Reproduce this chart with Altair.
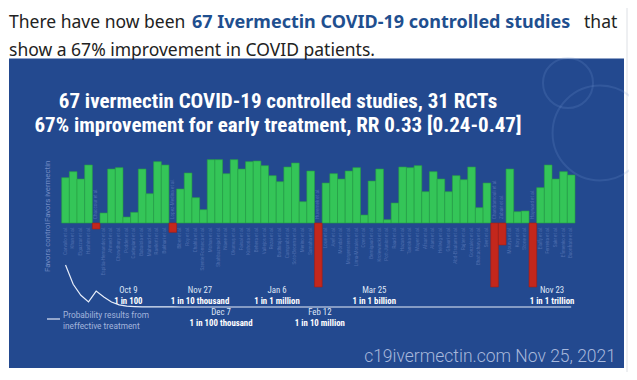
import altair as alt
import pandas as pd

# ---------------- data ----------------
studies = list(range(1, 68))
# percent improvement shown by each bar (negative = favors control)
improvement = [68, 77, 66, 87, -9, 15, 81, 83, 9, 16,
               81, 44, 92, 87, -14, 51, 75, 38, 20, 95,
               95, 74, 95, 81, 92, 93, 86, 71, 62, 84,
               90, 32, 78, -96, 60, 74, 66, 78, 83, 12,
               63, 81, 5, 30, 84, 83, 86, 47, 77, 66,
               47, 71, 65, 84, 23, 60, -96, -33, 81, 17,
               18, -96, 53, 87, 66, 77, 72]
names = ["Carvallo", "Khan", "Elgazzar", "Hashim", "Chaccour", "Espitia-Hernandez", "Ahmed",
         "Chowdhury", "Podder", "Cadegiani", "Babalola", "Mahmud", "Ravikirti", "Bukhari",
         "Lopez-Medina", "Biber", "Roy", "Chahla", "Szente Fonseca", "Mohan", "Shahbaznejad",
         "Niaee", "Okumuş", "Faisal", "Kishoria", "Behera", "Vallejos", "Rezai", "Budhiraja",
         "Camprubí", "Soto-Becerra", "Merino", "Samaha", "Huvemek", "Loue", "Aref", "Mondal",
         "Morgenstern", "Lima-Morales", "Ozer", "Bernigaud", "Krolewiecki", "Pott-Junior",
         "Raad", "Hazan", "Tanioka", "Mayer", "Afsar", "Alam", "Hellwig", "Ghauri",
         "Abd-Elsalam", "Rajter", "Gonzalez", "Bhattacharya", "Seet", "Chandramouli", "Zubair",
         "Mourya", "Kory", "Stone", "Hayward", "Elalfy", "Ferreira", "Sakr", "Efimenko",
         "Buonfrate"]
# probability that results arise from an ineffective treatment (after each study)
probability = [0.5, 0.27, 0.14, 0.06, 0.19, 0.12, 0.06, 0.025, 0.01, 0.005,
               0.002, 0.0015, 0.0008, 0.0004, 0.0005, 0.0003, 0.0002, 1e-4, 6e-5, 3e-5,
               1e-5, 7e-6, 4e-6, 3e-6, 2e-6, 1.5e-6, 1.2e-6, 1e-6, 6e-7, 4e-7,
               3e-7, 2.5e-7, 1.5e-7, 1e-7, 6e-8, 4e-8, 2e-8, 1e-8, 6e-9, 3e-9,
               1e-9, 8e-10, 6e-10, 4e-10, 3e-10, 2e-10, 1.5e-10, 1e-10, 8e-11, 6e-11,
               4e-11, 3e-11, 2e-11, 1.5e-11, 1e-11, 8e-12, 6e-12, 5e-12, 4e-12, 3e-12,
               2.5e-12, 2e-12, 1.6e-12, 1.2e-12, 1e-12, 8e-13, 5e-13]

milestone_pos = [9.2, 18.55, 21.3, 28.6, 34.2, 41.3, 64.5]
milestone_date = ["Oct 9", "Nov 27", "Dec 7", "Jan 6", "Feb 12", "Mar 25", "Nov 23"]
milestone_odds = ["1 in 100", "1 in 10 thousand", "1 in 100 thousand", "1 in 1 million",
                  "1 in 10 million", "1 in 1 billion", "1 in 1 trillion"]
milestone_row = [0, 0, 1, 0, 1, 0, 0]

header1a = "There have now been "
header1b = "67 Ivermectin COVID-19 controlled studies"
header1c = "that"
header2 = "show a 67% improvement in COVID patients."
title1 = "67 ivermectin COVID-19 controlled studies, 31 RCTs"
title2 = "67% improvement for early treatment, RR 0.33 [0.24-0.47]"
watermark = "c19ivermectin.com Nov 25, 2021"

# ---------------- styles ----------------
PANEL = "#23498f"
GREEN = "#34c558"
RED = "#c3271c"
COND = "Liberation Sans Narrow, Roboto Condensed, DejaVu Sans Condensed, sans-serif"
W, H = 621, 364

bars_df = pd.DataFrame({"study": studies, "improvement": improvement,
                        "name": [n + " et al." for n in names]})
prob_df = pd.DataFrame({"study": studies, "p": probability})
mile_df = pd.DataFrame({"pos": milestone_pos, "date": milestone_date,
                        "odds": milestone_odds, "row": milestone_row})
one = pd.DataFrame({"a": [0]})

xscale = alt.Scale(domain=[0.5, 67.5], range=[53.7, 567], nice=False, zero=False)
yscale = alt.Scale(domain=[-150, 150], range=[315, 115], nice=False, zero=False)
pscale = alt.Scale(domain=[0, 1], range=[299, 215], nice=False, zero=False)


def txt(text, x, y, **kw):
    return alt.Chart(one).mark_text(text=text, **kw).encode(x=alt.value(x), y=alt.value(y))


panel = alt.Chart(one).mark_rect(color=PANEL).encode(
    x=alt.value(1), x2=alt.value(616), y=alt.value(50.5), y2=alt.value(360))
edge = alt.Chart(one).mark_rule(color="#dde0e5", strokeWidth=1).encode(
    x=alt.value(619), y=alt.value(0), y2=alt.value(364))
glow = alt.Chart(one).mark_point(shape="circle", size=9000, filled=False,
                                 stroke="#7a9bd6", strokeWidth=2, opacity=0.18).encode(
    x=alt.value(592), y=alt.value(125))
glow2 = alt.Chart(one).mark_point(shape="circle", size=2500, filled=False,
                                  stroke="#7a9bd6", strokeWidth=2, opacity=0.18).encode(
    x=alt.value(560), y=alt.value(75))

bars = alt.Chart(bars_df).transform_calculate(
    x0="datum.study - 0.5", x1="datum.study + 0.5",
    fav="datum.improvement >= 0 ? 'Favors ivermectin' : 'Favors control'"
).mark_rect(strokeWidth=0.6).encode(
    x=alt.X("x0:Q", scale=xscale, axis=None), x2="x1:Q",
    y=alt.Y("improvement:Q", scale=yscale, axis=None), y2=alt.datum(0),
    color=alt.Color("fav:N", scale=alt.Scale(domain=["Favors ivermectin", "Favors control"],
                                             range=[GREEN, RED]), legend=None),
    stroke=alt.Stroke("fav:N", scale=alt.Scale(domain=["Favors ivermectin", "Favors control"],
                                               range=["#26a043", "#9e1f15"]), legend=None),
)

lab_pos = alt.Chart(bars_df).transform_filter("datum.improvement >= 0").mark_text(
    angle=270, align="right", baseline="middle", fontSize=4.6, font="Roboto",
    color="#6a86c4", opacity=0.6).encode(
    x=alt.X("study:Q", scale=xscale, axis=None), y=alt.value(219), text="name:N")
lab_neg = alt.Chart(bars_df).transform_filter("datum.improvement < 0").mark_text(
    angle=270, align="left", baseline="middle", fontSize=4.6, font="Roboto",
    color="#6a86c4", opacity=0.6).encode(
    x=alt.X("study:Q", scale=xscale, axis=None), y=alt.value(211), text="name:N")

curve = alt.Chart(prob_df).mark_line(color="#e8eefa", strokeWidth=1.2).encode(
    x=alt.X("study:Q", scale=xscale, axis=None),
    y=alt.Y("p:Q", scale=pscale, axis=None))


def mile_layer(row, field, y, color, weight):
    return alt.Chart(mile_df).transform_filter(f"datum.row == {row}").mark_text(
        font=COND, fontSize=8.8, fontWeight=weight, color=color, align="center",
        baseline="alphabetic").encode(
        x=alt.X("pos:Q", scale=xscale, axis=None), y=alt.value(y), text=f"{field}:N")


miles = [mile_layer(0, "date", 285, "#dfe6f5", "normal"),
         mile_layer(0, "odds", 296, "#ffffff", "bold"),
         mile_layer(1, "date", 307, "#dfe6f5", "normal"),
         mile_layer(1, "odds", 318, "#ffffff", "bold")]

legend_line = alt.Chart(one).mark_rule(color="#dfe6f5", strokeWidth=1.2).encode(
    x=alt.value(39), x2=alt.value(52), y=alt.value(311))

texts = [
    txt(header1a, 1, 15, font="Noto Sans", fontSize=17.5, color="#222222", align="left"),
    txt(header1b, 184, 15, font="Noto Sans", fontSize=18, fontWeight="bold",
        color="#1f4f8f", align="left"),
    txt(header1c, 576, 15, font="Noto Sans", fontSize=17.5, color="#222222", align="left"),
    txt(header2, 1, 43, font="Noto Sans", fontSize=17.5, color="#222222", align="left"),
    txt(title1, 270, 94, font=COND, fontSize=21, fontWeight="bold", color="#ffffff"),
    txt(title2, 270, 118, font=COND, fontSize=21, fontWeight="bold", color="#ffffff"),
    txt("Favors ivermectin", 40, 214, font="Roboto", fontSize=7.8, angle=270,
        color="#7189c4", baseline="middle", align="left"),
    txt("Favors control", 40, 264, font="Roboto", fontSize=7.8, angle=270,
        color="#7189c4", baseline="middle", align="left"),
    txt("Probability results from", 55, 308, font="Roboto", fontSize=8.3,
        color="#a3b5dc", align="left"),
    txt("ineffective treatment", 55, 319, font="Roboto", fontSize=8.3,
        color="#a3b5dc", align="left"),
    txt(watermark, 608, 349, font="Roboto", fontSize=17.5, fontWeight=300,
        color="#a7b8dc", align="right"),
]

chart = alt.layer(
    panel, edge, glow, glow2, bars, lab_pos, lab_neg, curve, legend_line, *miles, *texts
).resolve_scale(y="independent").properties(
    width=W, height=H, padding=0, autosize=alt.AutoSizeParams(type="none"),
    background="white"
).configure_view(stroke=None)

chart.save("out.html", embed_options={"renderer": "svg", "actions": False})
